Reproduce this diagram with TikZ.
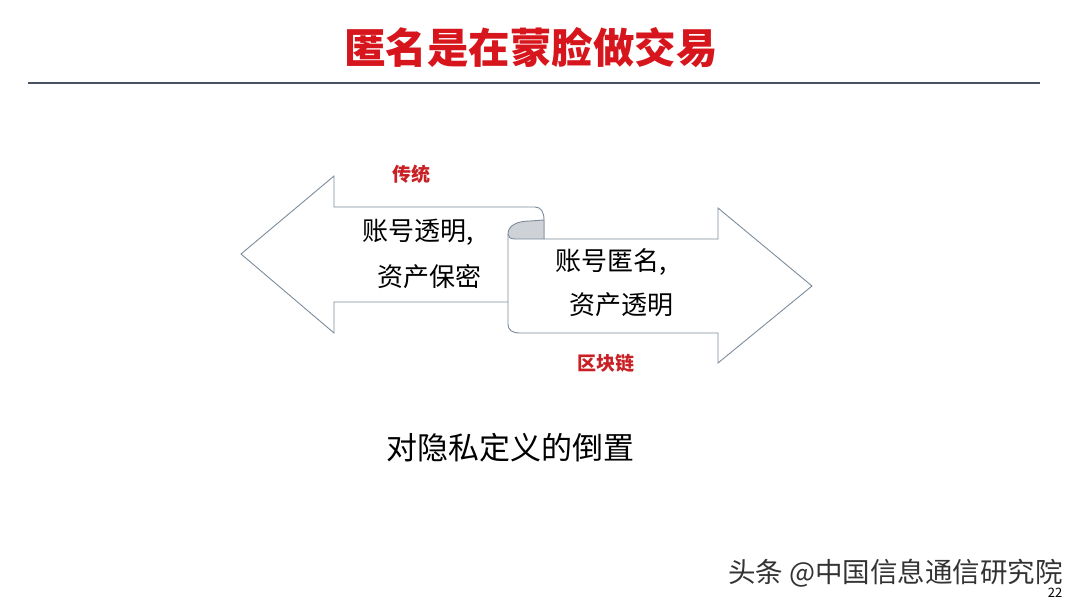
\documentclass[tikz,border=0pt]{standalone}
\usepackage{fontspec}
\setmainfont{Noto Sans CJK SC}
\usepackage{xcolor}
\usepackage{tikz}
\usetikzlibrary{positioning}

\definecolor{titlered}{RGB}{214,22,28}
\definecolor{labelred}{RGB}{200,32,36}
\definecolor{edgegray}{RGB}{125,140,155}
\definecolor{rollgray}{RGB}{206,209,214}
\definecolor{rulegray}{RGB}{72,82,98}

\begin{document}
\begin{tikzpicture}[
    x=1pt, y=-1pt,
    title/.style={font=\bfseries\fontsize{41.5}{46}\selectfont, text=titlered, inner sep=0pt},
    tag/.style={font=\bfseries\fontsize{19}{22}\selectfont, text=labelred, inner sep=0pt},
    body/.style={font=\fontsize{26}{30}\selectfont, inner sep=0pt, anchor=west},
    arrowbody/.style={fill=white, draw=edgegray, line width=0.9pt, line join=miter}
]
\useasboundingbox (0,0) rectangle (1080,608);

\node[title] (head) at (531,48) {匿名是在蒙脸做交易};
\draw[rulegray, line width=2pt] (28,83) -- (1040,83);

% the two arrows and the roll between them
\draw[arrowbody] (508,302) -- (334,302) -- (334,333) -- (241,254) -- (334,176) -- (334,207)
    -- (535,207) .. controls (541,207) and (544,212) .. (544,220) -- (544,239);
\draw[arrowbody] (544,239) -- (718,239) -- (718,208) -- (812,286) -- (718,363) -- (718,333)
    -- (520,333) .. controls (512,333) and (508,330) .. (508,324) -- (508,234);
\draw[arrowbody, fill=rollgray] (508,234) .. controls (508,225) and (518,221) .. (530,221)
    -- (544,220) -- (544,239) -- (515,239) .. controls (510,239) and (508,237) .. (508,234);

\node[tag] (old) at (411,174) {传统};
\node[tag] (chain) at (606,363) {区块链};

\node[body] (lefta) at (362,232) {账号透明,};
\node[body] (leftb) at (377,277) {资产保密};
\node[body] (righta) at (555,262) {账号匿名,};
\node[body] (rightb) at (569,305) {资产透明};

\node[font=\fontsize{31}{36}\selectfont, inner sep=0pt] (note) at (510,448) {对隐私定义的倒置};

\node[font=\fontsize{27.5}{32}\selectfont, text=black!80, inner sep=0pt, anchor=east] (mark) at (1063,573) {头条 @中国信息通信研究院};
\node[font=\fontsize{13}{15}\selectfont, inner sep=0pt] (page) at (1055,593) {22};
\end{tikzpicture}
\end{document}
